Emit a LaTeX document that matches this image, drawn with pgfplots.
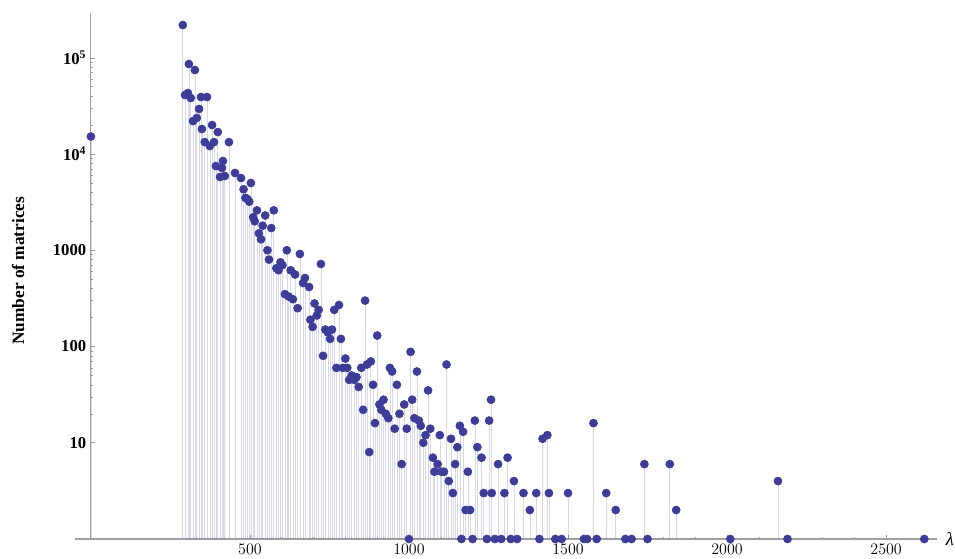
\documentclass[border=0pt]{standalone}
\usepackage{fontspec}
\setmainfont{Liberation Serif}
\usepackage{pgfplots}
\pgfplotsset{compat=1.18}
\definecolor{pts}{RGB}{61,61,153}
\definecolor{axgray}{RGB}{160,160,160}
\begin{document}
\begin{tikzpicture}
\useasboundingbox (-56.25pt,-15pt) rectangle (660pt,404.25pt);
\begin{axis}[
  scale only axis, width=646.5pt, height=394.5pt,
  xmin=-50, xmax=2660, ymode=log, ymin=1, ymax=2.92e5,
  axis x line=bottom, axis y line=center,
  axis line style={-, axgray, line width=0.8pt},
  tick align=inside, major tick length=3pt, minor tick length=1.8pt,
  every tick/.style={axgray},
  xtick={500,1000,1500,2000,2500}, minor x tick num=4,
  x tick label style={/pgf/number format/set thousands separator={}},
  ytick={10,100,1000,10000,100000},
  yticklabels={10,100,1000,10\textsuperscript{4},10\textsuperscript{5}},
  tick label style={font=\bfseries\fontsize{12.5}{12.5}\selectfont, black},
  ylabel={Number of matrices},
  every axis y label/.style={at={(axis description cs:-0.066,0.51)}, rotate=90, anchor=center, font=\bfseries\fontsize{13}{13}\selectfont},
  xlabel={\itshape λ},
  every axis x label/.style={at={(axis description cs:1.015,0)}, anchor=center, font=\fontsize{14}{14}\selectfont},
  clip=false,
]
\addplot[ycomb, draw=pts, draw opacity=0.2, line width=0.5pt,
  mark=*, mark size=3pt, mark options={fill=pts, draw=pts, fill opacity=1, draw opacity=1}]
coordinates {
(0,15200)
(289,219000) (308,86100) (327,74600) (296,41000) (305,43000) (314,38200)
(346,39100) (365,39100) (340,29400) (321,22000) (333,23700) (349,18200)
(381,20000) (399,16900) (358,13300) (374,12100) (387,13300) (434,13300)
(393,7500) (412,7160) (415,8460) (406,5770) (421,5910) (453,6350) (472,5630)
(480,4300) (486,3500) (492,3400) (498,3200) (503,5000) (510,2200) (515,2000)
(522,2600) (528,1500) (535,1300) (540,1800) (548,2300) (555,1000) (560,800)
(567,1700) (575,2600) (583,650) (590,620) (596,750) (602,700) (610,350)
(616,1000) (622,330) (628,620) (635,310) (642,560) (650,250)
(657,915) (667,457) (673,515) (686,415) (690,190) (697,160) (703,280)
(710,210) (716,240) (723,720) (730,80) (737,150) (745,140) (752,120)
(758,150) (765,240) (772,60) (780,270) (786,120) (792,60) (800,75)
(806,60) (812,45) (820,50) (828,45) (835,48) (842,38) (850,60)
(856,22) (862,300) (868,65) (875,8) (880,70) (887,40) (893,16) (900,130)
(907,25) (913,22) (920,28) (927,20) (935,18) (940,60) (947,55) (955,14)
(962,40) (970,20) (977,6) (985,25) (993,14) (1000,1) (1005,88) (1010,28)
(1017,18) (1025,55) (1031,17) (1037,15) (1045,10) (1052,12) (1060,35)
(1067,14) (1075,7) (1080,5) (1090,6) (1097,12) (1102,5) (1110,5) (1118,65)
(1125,4) (1132,11) (1138,3) (1145,6) (1152,9) (1160,15) (1165,1) (1170,13)
(1178,2) (1185,5) (1192,2) (1200,1) (1207,17) (1215,9) (1258,28) (1228,7)
(1235,3) (1245,1) (1252,17) (1260,3) (1270,1) (1280,6) (1290,1) (1300,3)
(1310,7) (1320,1) (1330,4) (1340,1) (1360,3) (1420,11) (1435,12) (1400,3)
(1410,1) (1380,2) (1440,3) (1460,1) (1480,1) (1500,3) (1550,1) (1560,1)
(1580,16) (1590,1) (1620,3) (1650,2) (1680,1) (1700,1) (1740,6) (1750,1)
(1820,6) (1840,2) (2010,1) (2160,4) (2190,1) (2620,1)
};
\end{axis}
\end{tikzpicture}
\end{document}
